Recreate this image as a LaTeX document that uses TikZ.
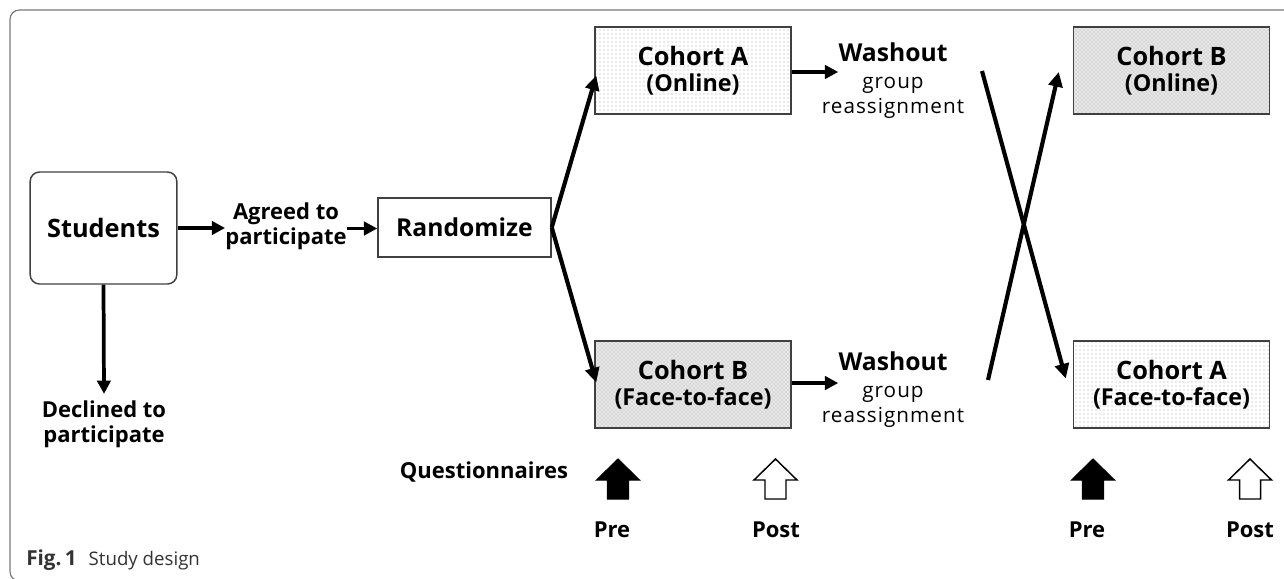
\documentclass[tikz,border=0pt]{standalone}
\usepackage{fontspec}
\setmainfont{Open Sans}
\newfontfamily\thinfont{Open Sans}[LetterSpace=5]
\newfontfamily\capfont{Open Sans}
\usetikzlibrary{patterns,arrows.meta,calc}
\definecolor{boxline}{HTML}{404040}
\definecolor{framecol}{HTML}{7A7A7A}
\definecolor{captext}{HTML}{333333}
\newcommand\qarrow[2]{\draw[#2] (#1,499) -- ++(-10.5,0) -- ++(0,-19) -- ++(-11,0) -- ++(21.5,-21) -- ++(21.5,21) -- ++(-11,0) -- ++(0,19) -- cycle;}
\newcommand\cohort[2]{{\fontsize{19}{20}\selectfont\bfseries #1}\\[5pt]{\fontsize{17.5}{20}\selectfont\bfseries #2}}
\begin{document}
\begin{tikzpicture}[x=0.75pt,y=-0.75pt,
  box/.style={draw=boxline, line width=1.1pt, align=center, inner sep=0pt},
  lightbox/.style={box, pattern=dots, pattern color=gray!70, minimum width=147pt, minimum height=65.25pt},
  densebox/.style={box, preaction={fill=gray!18}, pattern=crosshatch dots, pattern color=gray!75, minimum width=147pt, minimum height=65.25pt},
  title/.style={font=\bfseries\fontsize{19}{24}\selectfont},
  lbl/.style={font=\bfseries\fontsize{16.5}{18}\selectfont, align=center, inner sep=0pt},
  washlbl/.style={lbl, font=\bfseries\fontsize{18.5}{20}\selectfont, anchor=base},
  thin/.style={font=\thinfont\fontsize{15.5}{18}\selectfont, align=center, inner sep=0pt},
  harr/.style={line width=2.8pt, -{Triangle[length=10pt,width=10pt]}},
  darr/.style={line width=3.1pt, -{Triangle[length=11pt,width=10.5pt]}},
  fillarr/.style={fill=black, draw=black, line width=0.8pt},
  openarr/.style={fill=white, draw=black, line width=1.1pt}]
\useasboundingbox (0,0) rectangle (1284,578);
\begin{scope}
\clip (0,0) rectangle (1284,578);
\draw[framecol, line width=0.9pt, rounded corners=7pt] (10,10) rectangle (1320,581);
\end{scope}

% left part
\node[box, rounded corners=7pt, minimum width=110pt, minimum height=84pt, title] (stu) at (103.5,228) {Students};
\node[lbl] (agr) at (286,226.5) {Agreed to\\[1pt]participate};
\node[box, minimum width=129.75pt, minimum height=44.25pt, lbl, font=\bfseries\fontsize{18.5}{20}\selectfont] (rand) at (464.5,227.5) {Randomize};
\node[lbl] (dec) at (104,424.5) {Declined to\\[1pt]participate};

\draw[harr] (stu.east) -- (agr.west |- stu.east);
\draw[harr] ([yshift=-1.5pt]agr.east) -- ([yshift=-1.5pt]agr.east -| rand.west);
\draw[harr] (stu.south) -- ([yshift=5pt]dec.north);

% cohorts
\node[lightbox] (cA) at (693,70.5) {\cohort{Cohort A}{(Online)}};
\node[densebox] (cB) at (693,384.5) {\cohort{Cohort B}{(Face-to-face)}};
\node[densebox] (cB2) at (1171.5,70.5) {\cohort{Cohort B}{(Online)}};
\node[lightbox] (cA2) at (1171.5,384.5) {\cohort{Cohort A}{(Face-to-face)}};

\draw[darr] (rand.east) -- ([shift={(2,5)}]cA.west);
\draw[darr] (rand.east) -- ([shift={(2,-2)}]cB.west);

% washout
\node[washlbl] (wA) at (893,61) {Washout};
\node[thin] (gA) at (893,98) {group\\[1pt]reassignment};
\node[washlbl] (wB) at (893,370) {Washout};
\node[thin] (gB) at (893,407) {group\\[1pt]reassignment};

\draw[harr] ([yshift=-1.1pt]cA.east) -- ([yshift=-1.1pt]cA.east -| wA.west);
\draw[harr] ([yshift=1.1pt]cB.east) -- ([yshift=1.1pt]cB.east -| wB.west);

% crossover
\coordinate (xs1) at (982,71);
\coordinate (xs2) at (988,380);
\draw[darr] (xs1) -- ([shift={(-7,-6)}]cA2.west);
\draw[darr] (xs2) -- ([shift={(-14,1.5)}]cB2.west);

% questionnaires
\node[lbl, anchor=base] (q) at (484,478) {Questionnaires};
\qarrow{618}{fillarr}
\qarrow{775.5}{openarr}
\qarrow{1093}{fillarr}
\qarrow{1250}{openarr}
\node[lbl, anchor=base] (pre1) at (612,537) {Pre};
\node[lbl, anchor=base] (post1) at (776,537) {Post};
\node[lbl, anchor=base] (pre2) at (1087,537) {Pre};
\node[lbl, anchor=base] (post2) at (1250,537) {Post};

% caption
\node[anchor=base west, inner sep=0pt, text=captext, font=\capfont\fontsize{14}{16}\selectfont] (cap) at (26,565) {{\fontsize{15.5}{16}\selectfont\bfseries Fig.\,1}\hspace{9pt}Study design};
\end{tikzpicture}
\end{document}
